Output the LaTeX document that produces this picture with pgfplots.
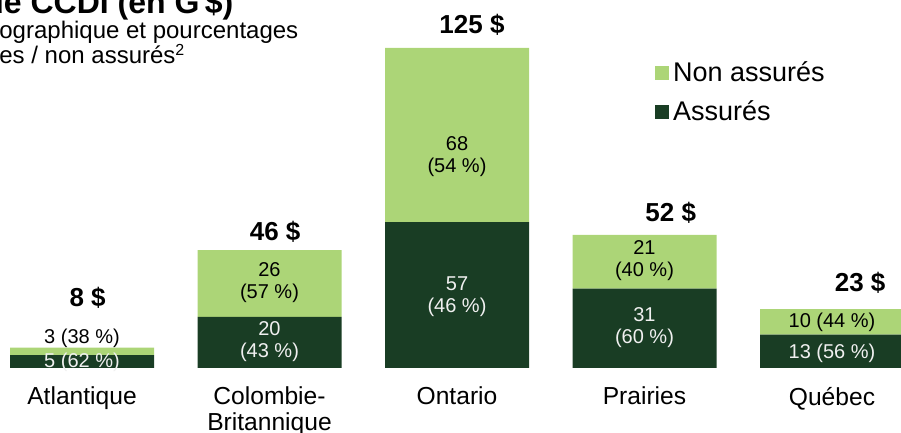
\documentclass[border=0pt]{standalone}
\usepackage{pgfplots}
\pgfplotsset{compat=1.18}
\usepackage{fontspec}
\setmainfont{Liberation Sans}
\definecolor{lightg}{HTML}{ACD577}
\definecolor{darkg}{HTML}{193D24}
\definecolor{txtw}{HTML}{F0F0F0}
\tikzset{seglab/.style={align=center, font=\fontsize{10}{11}\selectfont, inner sep=0pt},
  totlab/.style={font=\fontsize{13}{14}\bfseries\selectfont, inner sep=0pt}}
\begin{document}
\begin{tikzpicture}
\useasboundingbox (0,0) rectangle (450.5pt,216.5pt);
\clip (0,0) rectangle (450.5pt,216.5pt);
\node[anchor=base west, inner sep=0pt, font=\fontsize{16}{18}\bfseries\selectfont] at (-8pt,209.5pt) {de CCDI (en G\,\$)};
\node[anchor=base west, inner sep=0pt, font=\fontsize{12}{13}\selectfont] at (-0.5pt,197pt) {ographique et pourcentages};
\node[anchor=base west, inner sep=0pt, font=\fontsize{12}{13}\selectfont] at (-0.5pt,184.5pt) {es / non assurés\textsuperscript{2}};
\begin{axis}[
  at={(-5.875pt,32.5pt)}, anchor=south west,
  width=468.75pt, height=179.2pt, scale only axis,
  ybar stacked, bar width=72pt,
  xmin=-0.5, xmax=4.5, ymin=0, ymax=140,
  axis x line=bottom, axis y line=none,
  x axis line style={draw=none},
  major tick length=0pt,
  xtick={0,1,2,3,4},
  xticklabels={Atlantique,{Colombie-\\Britannique},Ontario,Prairies,Québec},
  xticklabel style={align=center, font=\fontsize{12.3}{13}\selectfont, text=black, yshift=-6pt},
  clip=false,
  legend image code/.code={\fill[#1] (0pt,-3.5pt) rectangle (7pt,3.5pt);},
  reverse legend,
  legend cell align=left,
  legend style={at={(0.711,0.868)}, anchor=north west, draw=none, fill=none,
    inner sep=0pt, row sep=4pt, font=\fontsize{13.5}{15}\selectfont},
]
\addplot[fill=darkg, draw=none] coordinates {(0,5) (1,20) (2,57) (3,31) (4,13)};
\addlegendentry{Assurés}
\addplot[fill=lightg, draw=none] coordinates {(0,3) (1,26) (2,68) (3,21) (4,10)};
\addlegendentry{Non assurés}
\coordinate (n0) at (axis cs:0,11.7);
\coordinate (d0) at (axis cs:0,2.3);
\coordinate (n1) at (axis cs:1,33.2);
\coordinate (d1) at (axis cs:1,10.5);
\coordinate (n2) at (axis cs:2,82.4);
\coordinate (d2) at (axis cs:2,27.7);
\coordinate (n3) at (axis cs:3,41.8);
\coordinate (d3) at (axis cs:3,15.6);
\coordinate (n4) at (axis cs:4,18);
\coordinate (d4) at (axis cs:4,5.9);
\coordinate (t0) at (axis cs:0.03,27.3);
\coordinate (t1) at (axis cs:1.03,53.1);
\coordinate (t2) at (axis cs:2.08,134);
\coordinate (t3) at (axis cs:3.14,60.5);
\coordinate (t4) at (axis cs:4.15,33.2);
\end{axis}
\node[seglab, text=black] at (n0) {3 (38 \%)};
\node[seglab, text=txtw] at (d0) {5 (62 \%)};
\node[seglab, text=black] at (n1) {26\\(57 \%)};
\node[seglab, text=txtw] at (d1) {20\\(43 \%)};
\node[seglab, text=black] at (n2) {68\\(54 \%)};
\node[seglab, text=txtw] at (d2) {57\\(46 \%)};
\node[seglab, text=black] at (n3) {21\\(40 \%)};
\node[seglab, text=txtw] at (d3) {31\\(60 \%)};
\node[seglab, text=black] at (n4) {10 (44 \%)};
\node[seglab, text=txtw] at (d4) {13 (56 \%)};
\node[totlab] at (t0) {8 \$};
\node[totlab] at (t1) {46 \$};
\node[totlab] at (t2) {125 \$};
\node[totlab] at (t3) {52 \$};
\node[totlab] at (t4) {23 \$};
\end{tikzpicture}
\end{document}
